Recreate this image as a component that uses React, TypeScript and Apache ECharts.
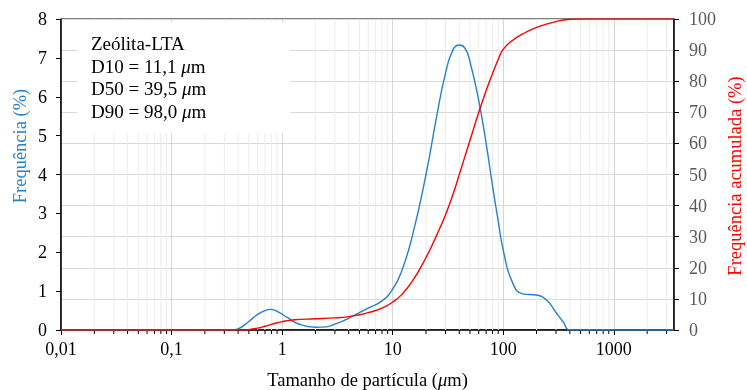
import React, { useEffect, useRef } from 'react';
import * as echarts from 'echarts';

const FONT = '"Liberation Serif", "Times New Roman", serif';

// Particle size (µm) and frequency (%)
const freqSizes = [0.01, 0.35, 0.4, 0.5, 0.6, 0.7, 0.78, 0.9, 1.1, 1.4, 2, 2.5, 3, 4, 5, 6, 8, 10, 12, 15, 20, 25, 30, 35, 40, 45, 50, 60, 70, 80, 90, 100, 120, 150, 200, 250, 300, 350, 400, 3500];
const frequency = [0, 0, 0.03, 0.22, 0.4, 0.5, 0.53, 0.48, 0.33, 0.16, 0.07, 0.08, 0.15, 0.3, 0.45, 0.56, 0.75, 1.05, 1.5, 2.4, 4.0, 5.5, 6.6, 7.2, 7.33, 7.25, 6.9, 5.9, 4.8, 3.7, 2.8, 2.05, 1.25, 0.93, 0.9, 0.75, 0.45, 0.2, 0, 0];

// Particle size (µm) and cumulative frequency (%)
const cumSizes = [0.01, 0.45, 0.5, 0.6, 0.7, 0.8, 1, 1.3, 2, 3, 4, 5, 6, 8, 10, 12, 15, 20, 25, 30, 35, 40, 50, 60, 70, 80, 90, 100, 120, 150, 200, 300, 400, 500, 3500];
const cumulative = [0, 0, 0.1, 0.6, 1.2, 1.8, 2.7, 3.3, 3.6, 3.9, 4.3, 4.9, 5.6, 7.0, 9.0, 11.3, 15.6, 23.3, 30.5, 37, 43.5, 50, 61, 70, 77, 82.5, 87, 90.3, 93, 95.2, 97.3, 99.2, 99.9, 100, 100];

// Minor log ticks on the x axis
const minorTicks = [
  0.02, 0.03, 0.04, 0.05, 0.06, 0.07, 0.08, 0.09,
  0.2, 0.3, 0.4, 0.5, 0.6, 0.7, 0.8, 0.9,
  2, 3, 4, 5, 6, 7, 8, 9,
  20, 30, 40, 50, 60, 70, 80, 90,
  200, 300, 400, 500, 600, 700, 800, 900,
  2000, 3000,
];

const boxLines = ['Zeólita-LTA', 'D10 = 11,1 {i|μ}m', 'D50 = 39,5 {i|μ}m', 'D90 = 98,0 {i|μ}m'];

const BLUE = '#2680CC';
const RED = '#FF0000';

function fmtLog(v: number): string {
  const e = Math.log10(v);
  const r = Math.round(e);
  if (Math.abs(e - r) > 1e-6) return '';
  if (r < 0) return '0,' + '0'.repeat(-r - 1) + '1';
  return '1' + '0'.repeat(r);
}

export default function App() {
  const ref = useRef<HTMLDivElement>(null);
  useEffect(() => {
    const chart = echarts.init(ref.current!, null, { renderer: 'svg' });
    const option: any = {
      animation: false,
      grid: {
        left: 61, right: 73, top: 19, bottom: 60,
        containLabel: false,
        outerBoundsMode: 'none',
        show: true, borderColor: '#000', borderWidth: 1, backgroundColor: 'transparent',
      },
      xAxis: {
        type: 'log',
        logBase: 10,
        min: 0.01,
        max: 3500,
        name: 'Tamanho de partícula ({i|μ}m)',
        nameLocation: 'middle',
        nameGap: 40,
        nameTextStyle: {
          fontFamily: FONT, fontSize: 18.5, color: '#000',
          rich: { i: { fontFamily: FONT, fontSize: 18.5, fontStyle: 'italic', color: '#000' } },
        },
        axisLine: { show: true, onZero: false, lineStyle: { color: '#000', width: 1.5 } },
        axisTick: { show: true, inside: false, length: 5, lineStyle: { color: '#000', width: 1 } },
        axisLabel: { formatter: fmtLog, fontFamily: FONT, fontSize: 18, color: '#000', margin: 10, showMaxLabel: false },
        splitLine: { show: true, lineStyle: { color: '#d6d6d6', width: 1 } },
        minorTick: { show: false },
        minorSplitLine: { show: false },
      },
      yAxis: [
        {
          type: 'value', min: 0, max: 8, interval: 1,
          position: 'left',
          axisLine: { show: true, lineStyle: { color: '#000', width: 1.5 } },
          axisTick: { show: true, inside: false, length: 5, lineStyle: { color: '#000' } },
          axisLabel: { fontFamily: FONT, fontSize: 18, color: '#000', margin: 14 },
          splitLine: { show: false },
        },
        {
          type: 'value', min: 0, max: 100, interval: 10,
          position: 'right',
          axisLine: { show: true, lineStyle: { color: '#000', width: 1.5 } },
          axisTick: { show: true, inside: false, length: 5, lineStyle: { color: '#000' } },
          axisLabel: { fontFamily: FONT, fontSize: 18, color: '#595959', margin: 15 },
          splitLine: { show: true, lineStyle: { color: '#d9d9d9', width: 1 } },
        },
      ],
      series: [
        {
          type: 'custom',
          xAxisIndex: 0,
          yAxisIndex: 0,
          z: 1,
          clip: false,
          silent: true,
          data: minorTicks.map((v) => [v, 0]),
          encode: { x: 0, y: 1 },
          renderItem: (params: any, api: any) => {
            const x = api.coord([api.value(0), 0])[0];
            const cs = params.coordSys;
            const bottom = cs.y + cs.height;
            return {
              type: 'group',
              children: [
                { type: 'line', shape: { x1: x, y1: cs.y, x2: x, y2: bottom }, style: { stroke: '#ececec', lineWidth: 1 } },
                { type: 'line', shape: { x1: x, y1: bottom, x2: x, y2: bottom + 4 }, style: { stroke: '#000', lineWidth: 1 } },
              ],
            };
          },
        },
        {
          type: 'line',
          name: 'Frequência',
          xAxisIndex: 0,
          yAxisIndex: 0,
          z: 3,
          data: freqSizes.map((s, i) => [s, frequency[i]]),
          showSymbol: false,
          smooth: 0.5,
          lineStyle: { color: BLUE, width: 1.4 },
          itemStyle: { color: BLUE },
        },
        {
          type: 'line',
          name: 'Frequência acumulada',
          xAxisIndex: 0,
          yAxisIndex: 1,
          z: 4,
          data: cumSizes.map((s, i) => [s, cumulative[i]]),
          showSymbol: false,
          smooth: 0.5,
          lineStyle: { color: RED, width: 1.4 },
          itemStyle: { color: RED },
        },
      ],
      graphic: [
        { type: 'rect', z: 50, silent: true, shape: { x: 77, y: 22, width: 213, height: 111 }, style: { fill: '#fff' } },
        ...boxLines.map((t, i) => ({
          type: 'text',
          z: 51,
          x: 91,
          y: 34 + i * 22.5,
          style: {
            text: t,
            fontFamily: FONT,
            fontSize: 19,
            fill: '#000',
            textVerticalAlign: 'top',
            rich: { i: { fontFamily: FONT, fontSize: 19, fontStyle: 'italic', fill: '#000' } },
          },
        })),
        {
          type: 'text', z: 51, x: 20, y: 146, rotation: Math.PI / 2,
          style: { text: 'Frequência (%)', fontFamily: FONT, fontSize: 18.5, fill: BLUE, align: 'center', verticalAlign: 'middle' },
        },
        {
          type: 'text', z: 51, x: 735, y: 176, rotation: Math.PI / 2,
          style: { text: 'Frequência acumulada (%)', fontFamily: FONT, fontSize: 18.5, fill: RED, align: 'center', verticalAlign: 'middle' },
        },
      ],
    };
    chart.setOption(option);
    return () => chart.dispose();
  }, []);
  return <div ref={ref} style={{ position: 'fixed', left: 0, top: 0, width: 747, height: 390 }} />;
}
